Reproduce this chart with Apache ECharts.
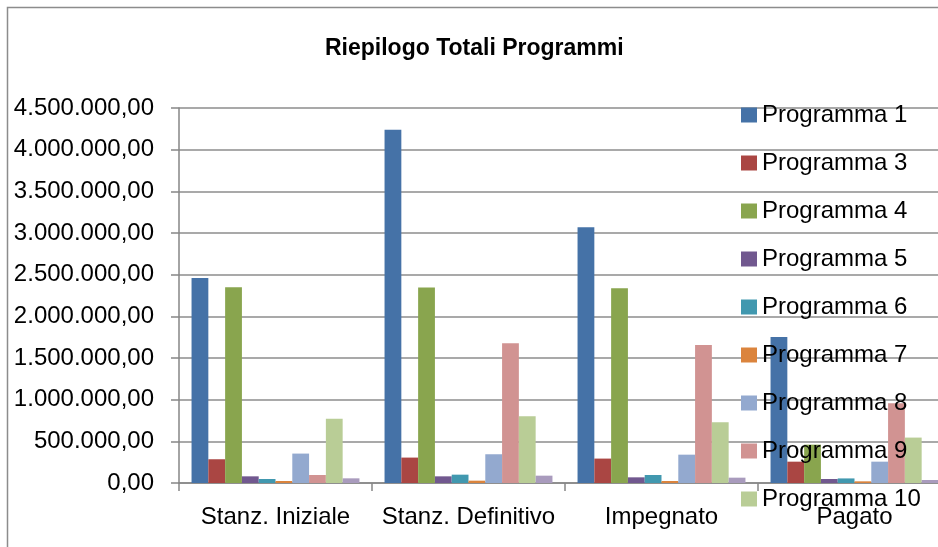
<!DOCTYPE html>
<html>
<head>
<meta charset="utf-8">
<script src="https://cdn.jsdelivr.net/npm/echarts@6/dist/echarts.min.js"></script>
<style>
html,body{margin:0;padding:0;background:#fff;overflow:hidden;width:938px;height:547px;}
#chart{width:960px;height:547px;}
</style>
</head>
<body>
<div id="chart"></div>
<script>
const categories = ['Stanz. Iniziale', 'Stanz. Definitivo', 'Impegnato', 'Pagato'];
const seriesNames = ['Programma 1','Programma 3','Programma 4','Programma 5','Programma 6','Programma 7','Programma 8','Programma 9','Programma 10','Programma 11'];
const legendNames = ['Programma 1','Programma 3','Programma 4','Programma 5','Programma 6','Programma 7','Programma 8','Programma 9','Programma 10'];
const p1  = [2460000, 4240000, 3068000, 1752000];
const p3  = [285000, 305000, 293000, 256000];
const p4  = [2350000, 2346000, 2338000, 460000];
const p5  = [80000, 80000, 68000, 48000];
const p6  = [48000, 100000, 96000, 55000];
const p7  = [24000, 28000, 24000, 20000];
const p8  = [353000, 345000, 340000, 256000];
const p9  = [96000, 1676000, 1657000, 958000];
const p10 = [770000, 800000, 730000, 545000];
const p11 = [56000, 88000, 64000, 36000];
const yTicks = [0, 500000, 1000000, 1500000, 2000000, 2500000, 3000000, 3500000, 4000000, 4500000];
const allData = [p1, p3, p4, p5, p6, p7, p8, p9, p10, p11];
const colors = ['#4572A7','#AA4643','#89A54E','#71588F','#4198AF','#DB843D','#93A9CF','#D19392','#B9CD96','#A99BBD'];

const font = '"Liberation Sans", Arial, sans-serif';
function fmt(v){
  const s = Math.round(v).toString().replace(/\B(?=(\d{3})+(?!\d))/g, '.');
  return s + ',00';
}

const chart = echarts.init(document.getElementById('chart'), null, {renderer:'canvas'});
chart.setOption({
  animation:false,
  color: colors,
  title:{
    text:'Riepilogo Totali Programmi',
    left:320, top:32,
    textStyle:{fontFamily:font, fontSize:23, fontWeight:'bold', color:'#000'}
  },
  graphic:[{
    type:'rect', z:-1,
    shape:{x:7.5, y:7.5, width:1200, height:1200},
    style:{fill:'none', stroke:'#8c8c8c', lineWidth:1.5}
  }],
  legend:{
    data: legendNames,
    orient:'vertical',
    left:741, top:103,
    padding:0,
    itemWidth:16, itemHeight:15,
    itemGap:24,
    icon:'rect',
    textStyle:{fontFamily:font, fontSize:24, lineHeight:24, color:'#000'}
  },
  grid:{left:179, top:108, width:772, bottom:64, containLabel:false},
  xAxis:{
    type:'category',
    data: categories,
    axisLine:{lineStyle:{color:'#868686', width:1.5}},
    axisTick:{show:true, length:8, lineStyle:{color:'#868686', width:1.5}},
    axisLabel:{interval:0, fontFamily:font, fontSize:24, color:'#000', margin:22}
  },
  yAxis:{
    type:'value',
    min: yTicks[0], max: yTicks[yTicks.length-1], interval: yTicks[1]-yTicks[0],
    axisLine:{show:true, lineStyle:{color:'#868686', width:1.5}},
    axisTick:{show:true, length:8, lineStyle:{color:'#868686', width:1.5}},
    splitLine:{lineStyle:{color:'#8c8c8c', width:1.5}},
    axisLabel:{fontFamily:font, fontSize:24, color:'#000', margin:25, formatter: fmt}
  },
  series: allData.map((d, i) => ({
    name: seriesNames[i],
    type:'bar',
    data: d,
    barGap:'0%',
    barCategoryGap:'13%',
    itemStyle:{color: colors[i]}
  }))
});
</script>
</body>
</html>
